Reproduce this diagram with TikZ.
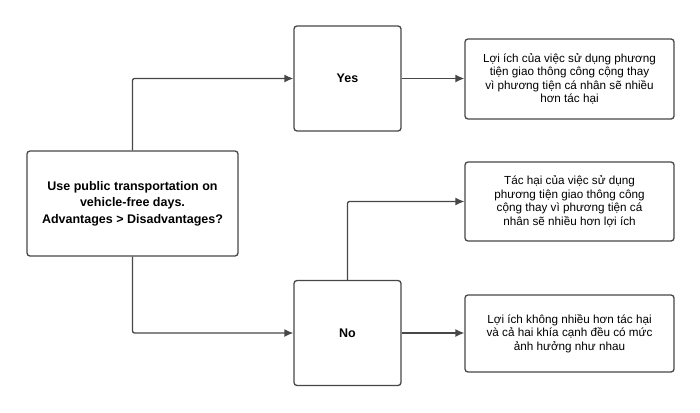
\documentclass[tikz,border=0pt]{standalone}
\usepackage{fontspec}
\setmainfont{Liberation Sans}
\usetikzlibrary{positioning,arrows.meta}
\tikzset{
box/.style={draw=black!72, line width=1.3pt, rounded corners=3pt, align=center, inner sep=0pt, fill=white},
question/.style={box, minimum width=211pt, minimum height=105pt, font=\bfseries\fontsize{12.5}{16.5}\selectfont},
choice/.style={box, minimum width=107pt, minimum height=105pt, font=\bfseries\fontsize{12.5}{15}\selectfont},
result/.style={box, minimum width=209pt, font=\fontsize{11.7}{13.5}\selectfont},
link/.style={draw=black!72, line width=1.3pt, rounded corners=2pt, -{Latex[length=9pt,width=8pt]}}
}

\begin{document}
\begin{tikzpicture}[x=1pt,y=-1pt]
	\useasboundingbox (0,0) rectangle (700,412);
	% question and the two answers
	\node[question] (ask) at (132.5,203.5) {Use public transportation on\\vehicle-free days.\\Advantages > Disadvantages?};
	\node[choice] (yes) at (347.5,78.5) {Yes};
	\node[choice] (no) at (347.5,333) {No};
	% outcomes
	\node[result, minimum height=80pt] (gain) at (569.5,79) {Lợi ích của việc sử dụng phương\\tiện giao thông công cộng thay\\vì phương tiện cá nhân sẽ nhiều\\hơn tác hại};
	\node[result, minimum height=79pt] (harm) at (569.5,201.5) {Tác hại của việc sử dụng\\phương tiện giao thông công\\cộng thay vì phương tiện cá\\nhân sẽ nhiều hơn lợi ích};
	\node[result, minimum height=77pt] (equal) at (569.5,333.5) {Lợi ích không nhiều hơn tác hại\\và cả hai khía cạnh đều có mức\\ảnh hưởng như nhau};
	% connectors
	\draw[link] (ask.north) |- (yes.west);
	\draw[link] (ask.south) |- (no.west);
	\draw[link] (yes.east) -- (yes.east -| gain.west);
	\draw[link] (no.north) |- (harm.west);
	\draw[link] (no.east) -- (no.east -| equal.west);
\end{tikzpicture}
\end{document}
